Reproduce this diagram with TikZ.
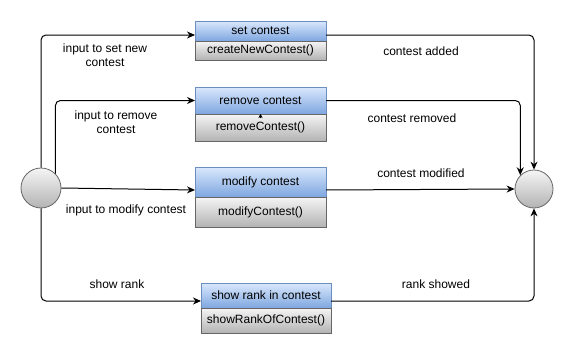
\documentclass[tikz,border=0pt]{standalone}
\usepackage{fontspec}
\setmainfont{Liberation Sans}
\usetikzlibrary{arrows.meta,positioning}

\definecolor{hdtop}{HTML}{DAE8FC}
\definecolor{hdbot}{HTML}{7EA6E0}
\definecolor{hdline}{HTML}{6C8EBF}
\definecolor{optop}{HTML}{F5F5F5}
\definecolor{opbot}{HTML}{B3B3B3}
\definecolor{opline}{HTML}{666666}

\begin{document}
\begin{tikzpicture}[x=1pt,y=-1pt,
  font=\fontsize{12}{14}\selectfont,
  hdr/.style={draw=hdline,line width=0.8pt,top color=hdtop,bottom color=hdbot,
    minimum width=131pt,inner sep=0pt,outer sep=0pt,anchor=north west},
  op/.style={draw=opline,line width=0.8pt,top color=optop,bottom color=opbot,
    minimum width=131pt,inner sep=0pt,outer sep=0pt},
  state/.style={circle,draw=opline,line width=0.8pt,top color=optop,bottom color=opbot,inner sep=0pt},
  flow/.style={draw,line width=1pt,rounded corners=5pt,-{Stealth[length=8pt,width=7pt]}},
  lbl/.style={align=center,inner sep=0pt}]
\useasboundingbox (0,0) rectangle (574,364);

% start and end states
\node[state,minimum size=40pt] (start) at (41,188) {};
\node[state,minimum size=38pt] (finish) at (534,189) {};

% operation boxes: header + method
\node[hdr,minimum height=20pt] (set) at (195,21) {set contest};
\node[op,minimum height=19pt,below=0pt of set] (setop) {createNewContest()};

\node[hdr,minimum height=27pt] (remove) at (195,87) {remove contest};
\node[op,minimum height=27pt,below=0pt of remove] (removeop) {removeContest()};

\node[hdr,minimum height=30pt] (modify) at (195,167) {modify contest};
\node[op,minimum height=30pt,below=0pt of modify] (modifyop) {modifyContest()};

\node[hdr,minimum height=25pt,minimum width=130pt] (rank) at (201,283) {show rank in contest};
\node[op,minimum height=25pt,minimum width=130pt,below=0pt of rank] (rankop) {showRankOfContest()};

% stray tip on the remove box
\draw[-{Stealth[length=4pt,width=4pt]}] ([yshift=-4pt]removeop.north) -- (removeop.north);

% inputs
\draw[flow] (start.north) |- ([yshift=-4pt]set.west);
\draw[flow] (start.north east) |- (remove.west);
\draw[flow] (start.east) -- ([yshift=-8pt]modify.west);
\draw[flow] (start.south) |- ([yshift=-5.5pt]rank.west);

% outputs
\draw[flow] ([yshift=-4pt]set.east) -| (finish.north);
\draw[flow] (remove.east) -| (finish.north west);
\draw[flow] ([yshift=-8pt]modify.east) -- (finish.west);
\draw[flow] ([yshift=-5.5pt]rank.east) -| (finish.south);

% labels
\node[lbl] (l1) at (105,55) {input to set new\\contest};
\node[lbl] (l2) at (116,122) {input to remove\\contest};
\node[lbl] (l3) at (126,210) {input to modify contest};
\node[lbl] (l4) at (117,284) {show rank};
\node[lbl] (r1) at (421,51) {contest added};
\node[lbl] (r2) at (412,118) {contest removed};
\node[lbl] (r3) at (421,173) {contest modified};
\node[lbl] (r4) at (436,284) {rank showed};
\end{tikzpicture}
\end{document}
